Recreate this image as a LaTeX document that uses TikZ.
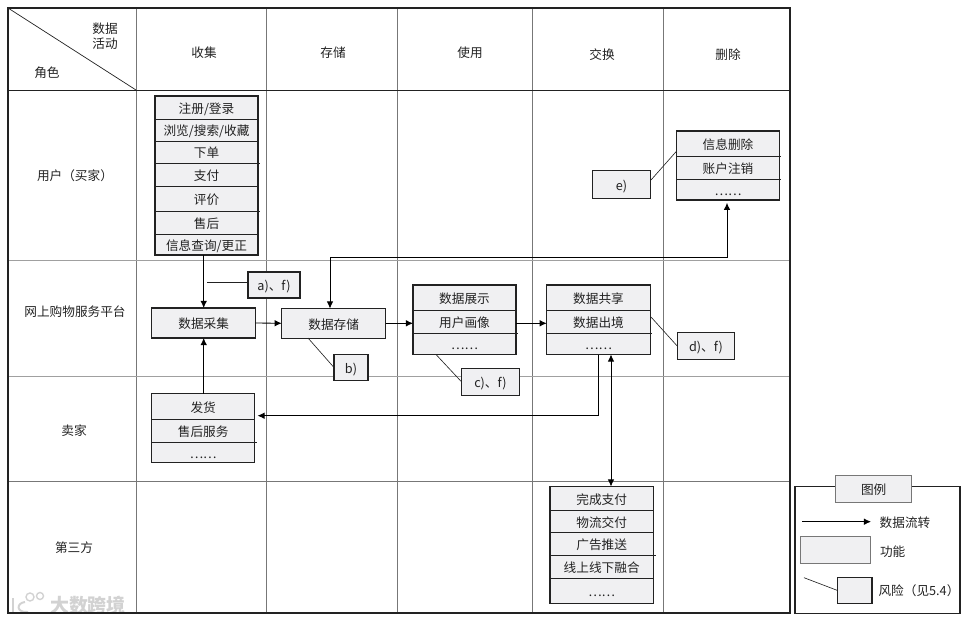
\documentclass[tikz,border=0pt]{standalone}
\usepackage{fontspec}
\setmainfont{Noto Sans CJK SC}
\usepackage{xcolor}
\usetikzlibrary{arrows.meta,positioning}
\definecolor{funcgray}{HTML}{F0F0F2}
\definecolor{gridgray}{HTML}{777777}
\definecolor{gridpale}{HTML}{A0A0A0}
\definecolor{inkdark}{HTML}{222222}
\definecolor{markgray}{HTML}{D2D2D2}
\tikzset{
  labeltext/.style={font=\fontsize{9}{11}\selectfont, text=inkdark, inner sep=0pt, text height=8.2pt, text depth=0pt},
  funcrow/.style={labeltext, draw=inkdark, line width=0.4pt, fill=funcgray, outer sep=0pt},
  stackframe/.style={draw=inkdark, line width=0.8pt, inner sep=0pt, outer sep=0pt},
  riskbox/.style={funcrow, line width=0.8pt},
  riskline/.style={draw=inkdark, line width=0.45pt},
  flow/.style={draw=black, line width=0.6pt, -{Latex[length=5pt,width=4.6pt]}},
  flowboth/.style={draw=black, line width=0.6pt, {Latex[length=5pt,width=4.6pt]}-{Latex[length=5pt,width=4.6pt]}},
}

\begin{document}
\begin{tikzpicture}[x=0.025cm,y=-0.025cm]

\useasboundingbox (0,0) rectangle (976,624);

\def\drawstack#1#2#3#4#5#6{
  \foreach \i/\ya/\yb/\txt in {#6}
    \node[funcrow, minimum width={#3*0.025cm}, minimum height={(\yb-\ya)*0.025cm}]
      (#1\i) at (#2,{(\ya+\yb)/2}) {\txt};
  \node[stackframe, minimum width={#3*0.025cm}, minimum height={(#5-#4)*0.025cm}]
    (#1) at (#2,{(#4+#5)/2}) {};
}

\node[font=\fontsize{13.5}{15}\selectfont\bfseries, text=markgray, inner sep=0pt] (markword) at (88,605) {大数跨境};
\draw[markgray, line width=1.2pt] (13,598) -- (13,612);
\draw[markgray, line width=1pt] (30,597) circle (4);
\draw[markgray, line width=1pt] (40,596) circle (3.5);
\draw[markgray, line width=1.4pt] (25,602) .. controls (16,603) and (16,613) .. (28,612);

\foreach \x in {136,266.5,397,532,663}
  \draw[gridgray, line width=0.6pt] (\x,8) -- (\x,613);
\draw[inkdark, line width=0.5pt] (8,90) -- (790,90);
\draw[gridpale, line width=0.7pt] (8,260) -- (790,260);
\draw[gridpale, line width=0.7pt] (8,376) -- (790,376);
\draw[gridgray, line width=0.6pt] (8,481) -- (790,481);
\draw[inkdark, line width=0.5pt] (8,8) -- (136,90);
\draw[inkdark, line width=1pt] (8,8) rectangle (790,613);

\node[labeltext] (datatop) at (105,28) {数据};
\node[labeltext] (datalow) at (105,43) {活动};
\node[labeltext] (rolehead) at (47,72) {角色};
\foreach \name/\x/\y/\txt in {collecthead/204/52/收集, storehead/333/52/存储, usehead/470/52/使用,
                              swaphead/602/54/交换, deletehead/728/54/删除,
                              userlane/75/175/用户（买家）, platlane/75/311/网上购物服务平台,
                              sellerlane/74/430/卖家, thirdlane/74/547/第三方}
  \node[labeltext] (\name) at (\x,\y) {\txt};

\drawstack{user}{206.5}{103}{96}{255}{1/96/119/{注册/登录}, 2/119/141/{浏览/搜索/收藏}, 3/141/163/下单,
  4/163/186/支付, 5/186/211/评价, 6/211/234/售后, 7/234/255/{信息查询/更正}}
\drawstack{show}{464.5}{103}{285}{354.5}{1/285/310.5/数据展示, 2/310.5/333/用户画像, 3/333/354.5/……}
\drawstack{share}{598.5}{103.5}{285}{354.5}{1/285/310.5/数据共享, 2/310.5/333.5/数据出境, 3/333.5/354.5/……}
\drawstack{delete}{728}{102.5}{131}{200}{1/131/156.5/信息删除, 2/156.5/179.5/账户注销, 3/179.5/200/……}
\drawstack{seller}{203.2}{103}{393.5}{462.5}{1/393.5/419/发货, 2/419/442.5/售后服务, 3/442.5/462.5/……}
\drawstack{third}{601.7}{103.5}{486.5}{603.5}{1/486.5/510.5/完成支付, 2/510.5/532.5/物流交付,
  3/532.5/555/广告推送, 4/555/578.5/线上线下融合, 5/578.5/603.5/……}

\foreach \xa/\xb/\y in {258/260/163, 258/260/211, 516/518/333, 650/652/333.5,
                        779/781/156.5, 779/781/179.5, 254/256.5/442.5, 653/655.5/555}
  \draw[inkdark, line width=0.4pt] (\xa,\y) -- (\xb,\y);

\node[riskbox, minimum width=2.6cm, minimum height=0.75cm] (collect) at (203.7,323) {数据采集};
\node[riskbox, minimum width=2.6cm, minimum height=0.74cm] (store) at (333.7,323.3) {数据存储};

\node[riskbox, minimum width=1.3cm, minimum height=0.65cm] (riskaf) at (274,285) {a)、f)};
\node[riskbox, minimum width=0.85cm, minimum height=0.63cm] (riskb) at (351,367.5) {b)};
\node[riskbox, minimum width=1.44cm, minimum height=0.69cm] (riskcf) at (490.5,382) {c)、f)};
\node[riskbox, minimum width=1.44cm, minimum height=0.67cm] (riskdf) at (706,346) {d)、f)};
\node[riskbox, minimum width=1.44cm, minimum height=0.69cm] (riske) at (621.5,184.5) {e)};

\coordinate (aftail) at (207,282.5);
\coordinate (btail) at (308,338);
\coordinate (ctail) at (436,354.5);
\coordinate (dtail) at (651,317);
\coordinate (etail) at (651,180);
\coordinate (ehead) at (676.7,151);
\coordinate (upleft) at (330,257);
\coordinate (upright) at (727,257);
\coordinate (backturn) at (598,415.7);
\coordinate (swaplane) at (611,420);

\draw[riskline] (aftail) -- (riskaf.west |- aftail);
\draw[riskline] (btail) -- (riskb.west);
\draw[riskline] (ctail) -- (riskcf.west);
\draw[riskline] (dtail) -- (riskdf.west);
\draw[riskline] (etail) -- (ehead);

\draw[flow] (collect.north |- user.south) -- (collect.north);
\draw[flow] (seller.north -| collect) -- (collect.south);
\draw[flow] (collect.east) -- (store.west);
\draw[flow] (store.east) -- (show.west |- store);
\draw[flow] (show.east |- store) -- (share.west |- store);
\draw[flowboth, shorten >=2pt] (upleft |- store.north) -- (upleft) -- (upright) -- (upright |- delete.south);
\draw[flow, shorten >=2pt] (backturn |- share.south) -- (backturn) -- (seller.east |- backturn);
\draw[flowboth] (swaplane |- share.south) -- (swaplane |- third.north);

\node[stackframe, minimum width=4.125cm, minimum height=3.18cm] (legend) at (877.5,550.3) {};
\node[funcrow, draw=gridgray, fill=funcgray, minimum width=1.9cm, minimum height=0.675cm] (legendtitle) at (873.7,489) {图例};
\coordinate (legflowa) at (802,521.7);
\coordinate (legflowb) at (871,521.7);
\coordinate (legrisktail) at (804,577.7);
\draw[flow] (legflowa) -- (legflowb);
\node[labeltext] (legflowtext) at (905,522) {数据流转};
\node[funcrow, draw=gridgray, minimum width=1.77cm, minimum height=0.675cm] (legfunc) at (835.3,550) {};
\node[labeltext] (legfunctext) at (892.7,550.5) {功能};
\node[riskbox, minimum width=0.86cm, minimum height=0.64cm] (legrisk) at (854.8,590.5) {};
\draw[riskline] (legrisktail) -- (legrisk.west);
\node[labeltext] (legrisktext) at (919,590) {风险（见5.4）};

\end{tikzpicture}
\end{document}
